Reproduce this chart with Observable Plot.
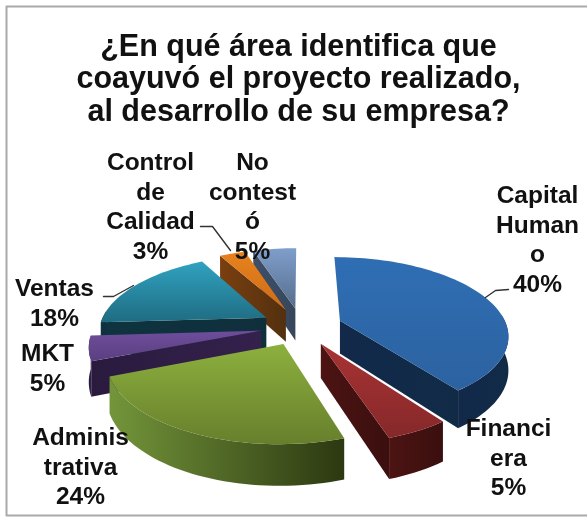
<!DOCTYPE html>
<html><head><meta charset="utf-8">
<style>html,body{margin:0;padding:0;background:#fff}svg{display:block;filter:blur(0.45px)}</style>
<script src="https://cdn.jsdelivr.net/npm/d3@7"></script>
<script src="https://cdn.jsdelivr.net/npm/@observablehq/plot@0.6"></script>
</head><body><script>
const areas = ["Capital Humano","Financiera","Administrativa","MKT","Ventas","Control de Calidad","No contestó"];
const shares = [40,5,24,5,18,3,5];
const labelTexts = ["Capital\nHuman\no\n40%","Financi\nera\n5%","Adminis\ntrativa\n24%","MKT\n5%","Ventas\n18%","Control\nde\nCalidad\n3%","No\ncontest\nó\n5%"];
const titleLines = "¿En qué área identifica que\ncoayuvó el proyecto realizado,\nal desarrollo de su empresa?";

// layout and style, separate from the values
const W=587,H=517;
const topColors=[["#2f6eb4","#2c62a0"],["#a83333","#86282a"],["#8cb03e","#677f2c"],["#6f4d9c","#5a3f80"],["#30a2c0","#1f6c82"],["#e8821f","#cf6c16"],["#7f9ecb","#566d8c"]];
const wallColors=[["#12294a","#112b47"],["#4c1413","#3a0f0e"],["#73953a","#2c3811"],["#2a1a3e","#34214c"],["#0f3340","#0f2f3b"],["#7a3f10","#52300f"],["#3e4f68","#37465a"]];
const labelAt=[[537,195],[508,428],[80,437],[47,353],[54,288],[150,162],[252,162]];
const C={x:301,y:326,R:167,T:0.457,e:0.17,E:0.245,D:33};
const rad=d=>d*Math.PI/180;
function proj(X,V,z=0){const p=1/(1-C.e*V);return {x:C.x+C.R*X*p,y:C.y+C.R*C.T*V*p+z*C.D*p};}

let acc=0;
const slices=shares.map((v,i)=>{const a0=acc*3.6;acc+=v;const a1=acc*3.6;const m=rad((a0+a1)/2);
  return {i,a0,a1,ex:C.E*Math.sin(m),ey:-C.E*Math.cos(m)};});
function pt(s,a,r,z){return proj(s.ex+r*Math.sin(rad(a)),s.ey-r*Math.cos(rad(a)),z);}
function arc(s,a0,a1,z){const n=Math.max(2,Math.ceil(Math.abs(a1-a0)/2));return d3.range(n+1).map(k=>pt(s,a0+(a1-a0)*k/n,1,z));}
const poly=(pts,fill)=>Plot.line(pts,{x:"x",y:"y",fill,stroke:"none",curve:"linear"});
function radialWall(s,a){return poly([pt(s,a,0,0),pt(s,a,1,0),pt(s,a,1,1),pt(s,a,0,1)],`url(#w${s.i})`);}
function sliceMarks(s){const out=[];const rs=rad(s.a0),re=rad(s.a1);
  if(Math.sin(re)>0.01)out.push(radialWall(s,s.a1));
  if(Math.sin(rs)<-0.01)out.push(radialWall(s,s.a0));
  const w0=Math.max(s.a0,85),w1=Math.min(s.a1,275);
  if(w1>w0)out.push(poly([...arc(s,w0,w1,0),...arc(s,w1,w0,1)],`url(#w${s.i})`));
  out.push(poly([pt(s,0,0,0),...arc(s,s.a0,s.a1,0)],`url(#t${s.i})`));
  return out;}
function grad(id,cols,vertical){const g=d3.create("svg:linearGradient").attr("id",id).attr("x1",0).attr("y1",0).attr("x2",vertical?0:1).attr("y2",vertical?1:0);
  g.append("stop").attr("offset",0).attr("stop-color",cols[0]);g.append("stop").attr("offset",1).attr("stop-color",cols[1]);return g.node();}
const defs=()=>{const d=d3.create("svg:defs");topColors.forEach((c,i)=>d.append(()=>grad("t"+i,c,true)));wallColors.forEach((c,i)=>d.append(()=>grad("w"+i,c,false)));return d.node();};

const order=[6,5,4,3,1,0,2];
const leaders=[
 [[485,297],[495,290],[508,289]],
 [[103,296],[113,296],[133,285]],
 [[200,226],[212,226],[230,250]]
];
const labels=labelTexts.map((t,i)=>({t,x:labelAt[i][0],y:labelAt[i][1]}));
const chart=Plot.plot({width:W,height:H,margin:0,
  x:{domain:[0,W],range:[0,W],axis:null},y:{domain:[0,H],range:[0,H],axis:null},
  style:{background:"#fff",fontFamily:"'Liberation Sans',Arial,sans-serif"},
  marks:[defs,
    Plot.line([{x:W,y:6},{x:6,y:6},{x:6,y:H-2},{x:W,y:H-2}],{x:"x",y:"y",stroke:"#a9a9a9",strokeWidth:2}),
    ...order.flatMap(i=>sliceMarks(slices[i])),
    ...leaders.map(l=>Plot.line(l.map(([x,y])=>({x,y})),{x:"x",y:"y",stroke:"#333",strokeWidth:1.4})),
    Plot.text(labels,{x:"x",y:"y",text:"t",fontSize:24.5,fontWeight:700,fill:"#111",lineHeight:1.2,lineAnchor:"top",dy:-13,textAnchor:"middle"}),
    Plot.text([titleLines],{x:()=>298,y:()=>48,text:d=>d,fontSize:30.5,fontWeight:700,fill:"#111",lineHeight:1.07,lineAnchor:"top",dy:-16,textAnchor:"middle"})
  ]});
document.body.append(chart);
</script></body></html>
